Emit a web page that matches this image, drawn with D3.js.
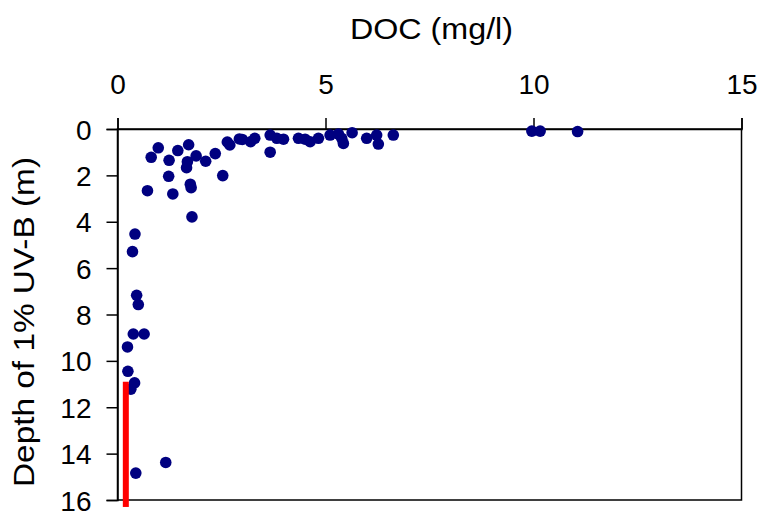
<!DOCTYPE html>
<html>
<head>
<meta charset="utf-8">
<script src="https://cdn.jsdelivr.net/npm/d3@7"></script>
<style>
  body { margin: 0; background: #fff; }
  svg { display: block; font-family: "Liberation Sans", Arial, sans-serif; }
</style>
</head>
<body>
<svg id="chart"></svg>
<script>
// DOC (mg/l) vs depth of 1% UV-B (m)
var doc = [0.98, 0.81, 1.45, 1.71, 1.24, 1.89, 1.68, 1.66, 2.12, 2.35, 2.64, 2.70, 2.93,
           1.23, 2.53, 0.72, 1.75, 1.77, 1.33, 1.79,
           3.0, 3.2, 3.3, 3.67, 3.83, 3.99, 3.67, 4.35, 4.51, 4.63, 4.83,
           5.11, 5.31, 5.43, 5.39, 5.64, 5.99, 6.23, 6.27, 6.63,
           9.96, 10.16, 11.06,
           0.42, 0.36, 0.46, 0.50, 0.38, 0.64, 0.24, 0.25, 0.41, 0.32, 1.16, 0.44];
var depth = [0.81, 1.22, 0.93, 0.68, 1.35, 1.16, 1.41, 1.67, 1.39, 1.06, 0.56, 0.69, 0.43,
             2.04, 2.01, 2.66, 2.38, 2.53, 2.80, 3.79,
             0.45, 0.55, 0.40, 0.26, 0.40, 0.44, 1.0, 0.40, 0.44, 0.55, 0.40,
             0.26, 0.22, 0.62, 0.40, 0.16, 0.40, 0.26, 0.65, 0.26,
             0.09, 0.09, 0.11,
             4.53, 5.29, 7.17, 7.57, 8.84, 8.84, 9.4, 10.45, 10.95, 11.22, 14.38, 14.84];

// red reference line
var lineDoc = [0.2, 0.2];
var lineDepth = [10.9, 16.3];

var xTicks = [0, 5, 10, 15];
var yTicks = [0, 2, 4, 6, 8, 10, 12, 14, 16];

var width = 762, height = 514;
var plotLeft = 117.5, plotRight = 741.5, plotTop = 129, plotBottom = 500;

var svg = d3.select("#chart")
    .attr("width", width)
    .attr("height", height);

var x = d3.scaleLinear().domain([0, 15]).range([plotLeft, plotRight]);
var y = d3.scaleLinear().domain([0, 16]).range([plotTop, plotBottom]);

// plot frame
svg.append("rect")
    .attr("x", plotLeft)
    .attr("y", plotTop)
    .attr("width", plotRight - plotLeft)
    .attr("height", plotBottom - plotTop)
    .attr("fill", "none")
    .attr("stroke", "#000")
    .attr("stroke-width", 1.5);

var xAxis = svg.append("g")
    .attr("transform", "translate(0," + plotTop + ")")
    .call(d3.axisTop(x).tickValues(xTicks).tickSize(11).tickPadding(24));

var yAxis = svg.append("g")
    .attr("transform", "translate(" + plotLeft + ",0)")
    .call(d3.axisLeft(y).tickValues(yTicks).tickSize(11).tickPadding(15));

[xAxis, yAxis].forEach(function(a) {
  a.select(".domain").attr("stroke", "#000").attr("stroke-width", 1.5);
  a.selectAll(".tick line").attr("stroke", "#000").attr("stroke-width", 1.5);
  a.selectAll(".tick text")
      .attr("font-family", "Liberation Sans, Arial, sans-serif")
      .attr("font-size", 28)
      .attr("fill", "#000");
});
yAxis.selectAll(".tick text").attr("dy", "0.36em");

// axis titles
svg.append("text")
    .attr("x", 431.5)
    .attr("y", 38.5)
    .attr("text-anchor", "middle")
    .attr("font-size", 30)
    .attr("textLength", 163)
    .attr("lengthAdjust", "spacingAndGlyphs")
    .text("DOC (mg/l)");

svg.append("text")
    .attr("transform", "translate(34,322) rotate(-90)")
    .attr("text-anchor", "middle")
    .attr("font-size", 30)
    .attr("textLength", 330)
    .attr("lengthAdjust", "spacingAndGlyphs")
    .text("Depth of 1% UV-B (m)");

// points
svg.append("g").selectAll("circle")
    .data(d3.range(doc.length))
    .enter()
    .append("circle")
    .attr("cx", function(i) { return x(doc[i]); })
    .attr("cy", function(i) { return y(depth[i]); })
    .attr("r", 5.8)
    .attr("fill", "#000080");

// red line
svg.append("path")
    .datum(d3.range(lineDoc.length))
    .attr("d", d3.line()
        .x(function(i) { return x(lineDoc[i]); })
        .y(function(i) { return y(lineDepth[i]); }))
    .attr("stroke", "#ff0000")
    .attr("stroke-width", 6)
    .attr("fill", "none");
</script>
</body>
</html>
